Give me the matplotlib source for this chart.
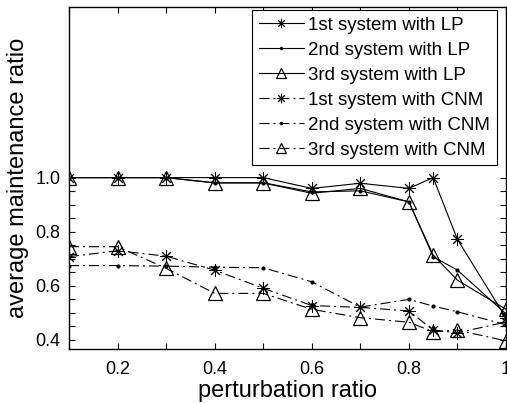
import matplotlib
matplotlib.use("Agg")
import matplotlib.pyplot as plt
from matplotlib.ticker import FixedLocator, FixedFormatter

plt.rcParams['font.family'] = ['Liberation Sans', 'DejaVu Sans']

# Data
x = [0.1, 0.2, 0.3, 0.4, 0.5, 0.6, 0.7, 0.8, 0.85, 0.9, 1.0]
lp1 = [1.0, 1.0, 1.0, 1.0, 1.0, 0.96, 0.979, 0.96, 1.0, 0.771, 0.48]
lp2 = [1.0, 1.0, 1.0, 0.981, 0.981, 0.947, 0.951, 0.91, 0.707, 0.657, 0.495]
lp3 = [1.0, 1.0, 1.0, 0.98, 0.98, 0.942, 0.96, 0.91, 0.713, 0.62, 0.512]
cnm1 = [0.707, 0.729, 0.709, 0.657, 0.59, 0.526, 0.519, 0.506, 0.435, 0.425, 0.465]
cnm2 = [0.674, 0.674, 0.672, 0.668, 0.666, 0.614, 0.52, 0.549, 0.524, 0.503, 0.455]
cnm3 = [0.744, 0.744, 0.664, 0.571, 0.571, 0.512, 0.481, 0.464, 0.429, 0.435, 0.395]

labels = ["1st system with LP", "2nd system with LP", "3rd system with LP",
          "1st system with CNM", "2nd system with CNM", "3rd system with CNM"]

xticks = [0.1, 0.2, 0.3, 0.4, 0.5, 0.6, 0.7, 0.8, 0.9, 1.0]
xticklabels = ["", "0.2", "", "0.4", "", "0.6", "", "0.8", "", "1"]
yticks = [0.4, 0.45, 0.5, 0.55, 0.6, 0.65, 0.7, 0.75, 0.8, 0.85, 0.9, 0.95, 1.0]
yticklabels = ["0.4", "", "", "", "0.6", "", "", "", "0.8", "", "", "", "1.0"]

fig = plt.figure(figsize=(5.07, 4.03), dpi=100)
ax = fig.add_axes([69/507, 1-349/403, 437/507, 342/403])

star = (8, 2, 0)
dd = (0, (9, 3.6, 1.8, 3.6))
lw = 0.8
common = dict(color='black', lw=lw, clip_on=True)
ax.plot(x, lp1, '-', marker=star, ms=9, mew=0.7, label=labels[0], **common)
ax.plot(x, lp2, '-', marker='.', ms=4, label=labels[1], **common)
ax.plot(x, lp3, '-', marker='^', ms=10, mfc='none', mew=0.9, label=labels[2], **common)
ax.plot(x, cnm1, linestyle=dd, marker=star, ms=9, mew=0.7, label=labels[3], **common)
ax.plot(x, cnm2, linestyle=dd, marker='.', ms=4, label=labels[4], **common)
ax.plot(x, cnm3, linestyle=dd, marker='^', ms=10, mfc='none', mew=0.9, label=labels[5], **common)

ax.set_xlim(0.1, 1.0)
ax.set_ylim(0.365, 1.632)
ax.xaxis.set_major_locator(FixedLocator(xticks))
ax.xaxis.set_major_formatter(FixedFormatter(xticklabels))
ax.yaxis.set_major_locator(FixedLocator(yticks))
ax.yaxis.set_major_formatter(FixedFormatter(yticklabels))
ax.tick_params(direction='in', top=True, right=True, length=4, width=0.8,
               labelsize=13, pad=6)
ax.tick_params(axis='x', pad=9)
for s in ax.spines.values():
    s.set_linewidth(1.0)

ax.set_xlabel("perturbation ratio", fontsize=17, labelpad=1)
ax.set_ylabel("average maintenance ratio", fontsize=17, labelpad=5)

leg = ax.legend(loc='upper right', bbox_to_anchor=(0.979, 0.991), fontsize=13.5,
                frameon=True, fancybox=False, framealpha=1, edgecolor='black',
                handlelength=2.4, handletextpad=0.25, borderpad=0.35,
                labelspacing=0.42, borderaxespad=0, markerscale=0.75)
leg.get_frame().set_linewidth(0.8)

fig.savefig("out.png", dpi=100)
